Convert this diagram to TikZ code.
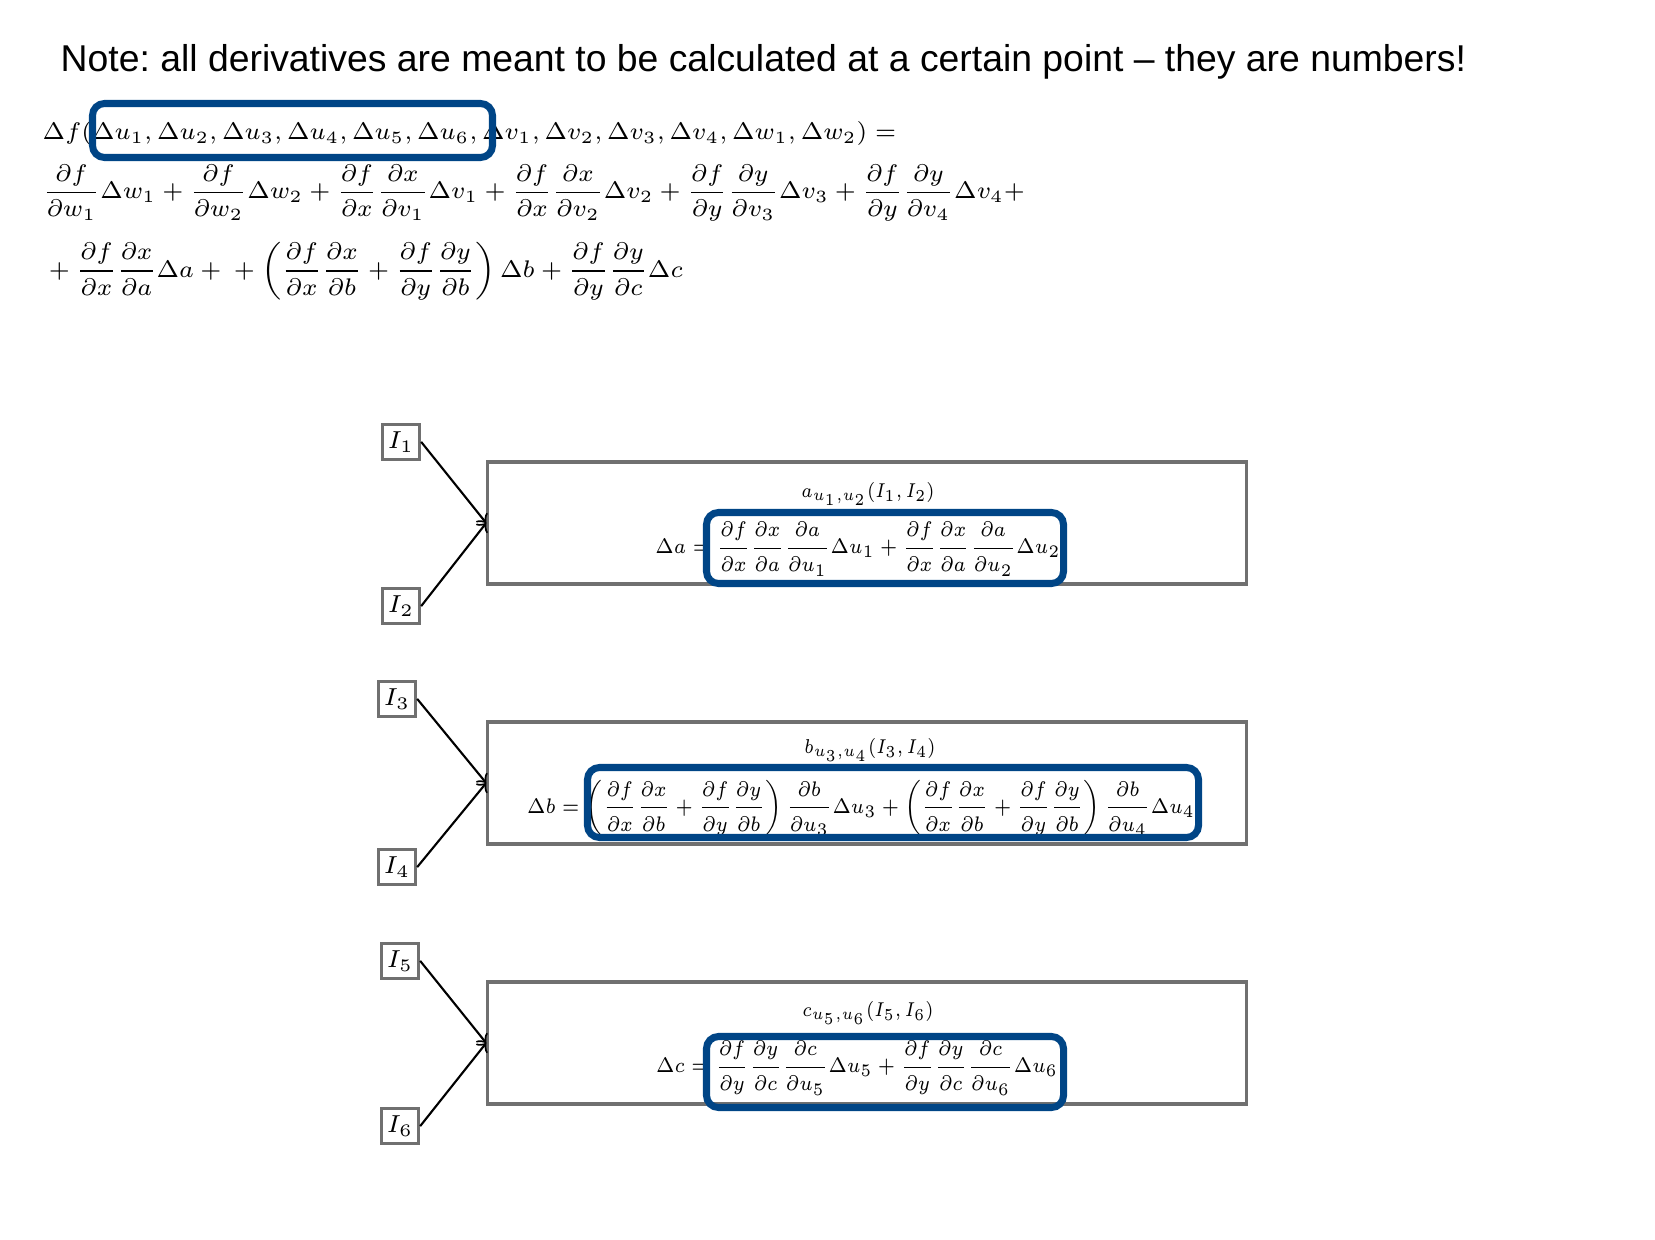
\documentclass[tikz,border=0pt]{standalone}
\usepackage{amsmath}
\usepackage{amssymb}
\usepackage{graphicx}
\usepackage{fontspec}
\usetikzlibrary{positioning}
\newfontfamily\notefont{Liberation Sans}
\definecolor{myblue}{RGB}{0,69,134}
\definecolor{mygray}{RGB}{112,112,112}
\newcommand\pd[2]{\frac{\partial #1}{\partial #2}}
\newcommand\sqeq[1]{\scalebox{0.875}[1]{$\displaystyle #1$}}
\newcommand\sqlab[1]{\scalebox{0.81}[0.95]{$#1$}}
\newcommand\topeq[1]{\scalebox{0.976}{$\displaystyle #1$}}

\begin{document}
\begin{tikzpicture}[
x=0.01cm, y=-0.01cm,
stagebox/.style={
  draw=mygray,
  line width=0.9pt,
  minimum width=7.58cm,
  minimum height=1.22cm},
inbox/.style={
  draw=mygray,
  line width=0.9pt,
  minimum width=0.37cm,
  minimum height=0.35cm,
  inner sep=0pt,
  font=\fontsize{6.6}{8}\selectfont},
eqtop/.style={inner sep=0pt, anchor=west, font=\fontsize{7}{9}\selectfont},
eqin/.style={inner sep=0pt, font=\fontsize{6.5}{8}\selectfont},
hlbox/.style={draw=myblue, line width=2pt, rounded corners=0.12cm},
arr/.style={->, line width=0.6pt}
]
\useasboundingbox (0,0) rectangle (1655,1240);

% note and expansion of Delta f
\node[anchor=base west, inner sep=0pt, font=\notefont\fontsize{10.62}{13}\selectfont] (note) at (60,72)
  {\frenchspacing Note: all derivatives are meant to be calculated at a certain point – they are numbers!};
\node[eqtop, anchor=base west] (line1) at (42,140)
  {\topeq{\Delta f(\Delta u_1,\Delta u_2,\Delta u_3,\Delta u_4,\Delta u_5,\Delta u_6,\Delta v_1,\Delta v_2,\Delta v_3,\Delta v_4,\Delta w_1,\Delta w_2) =}};
\node[eqtop] (line2) at (42,193)
  {\topeq{\pd{f}{w_1}\Delta w_1+\pd{f}{w_2}\Delta w_2+\pd{f}{x}\pd{x}{v_1}\Delta v_1+\pd{f}{x}\pd{x}{v_2}\Delta v_2+\pd{f}{y}\pd{y}{v_3}\Delta v_3+\pd{f}{y}\pd{y}{v_4}\Delta v_4+}};
\node[eqtop] (line3) at (42,271)
  {\topeq{{}+\pd{f}{x}\pd{x}{a}\Delta a+{}+\left(\pd{f}{x}\pd{x}{b}+\pd{f}{y}\pd{y}{b}\right)\Delta b+\pd{f}{y}\pd{y}{c}\Delta c}};

% stage a
\node[stagebox] (boxa) at (867,523) {};
\node[eqin] (laba) at (868,494) {\sqlab{a_{u_1,u_2}(I_1,I_2)}};
\node[eqin] (eqa) at (858,549)
  {\sqeq{\Delta a = \pd{f}{x}\pd{x}{a}\pd{a}{u_1}\Delta u_1+\pd{f}{x}\pd{x}{a}\pd{a}{u_2}\Delta u_2}};
\node[inbox, above left=0.62cm and 0.65cm of boxa.west] (I1) {$I_1$};
\node[inbox, below left=0.64cm and 0.65cm of boxa.west] (I2) {$I_2$};
\draw[arr] (I1.east) -- (boxa.west);
\draw[arr] (I2.east) -- (boxa.west);

% stage b
\node[stagebox] (boxb) at (867,783) {};
\node[eqin] (labb) at (870,750) {\sqlab{b_{u_3,u_4}(I_3,I_4)}};
\node[eqin] (eqb) at (861,808)
  {\sqeq{\Delta b = \left(\pd{f}{x}\pd{x}{b}+\pd{f}{y}\pd{y}{b}\right)\pd{b}{u_3}\Delta u_3+\left(\pd{f}{x}\pd{x}{b}+\pd{f}{y}\pd{y}{b}\right)\pd{b}{u_4}\Delta u_4}};
\node[inbox, above left=0.65cm and 0.69cm of boxb.west] (I3) {$I_3$};
\node[inbox, below left=0.65cm and 0.69cm of boxb.west] (I4) {$I_4$};
\draw[arr] (I3.east) -- (boxb.west);
\draw[arr] (I4.east) -- (boxb.west);

% stage c
\node[stagebox] (boxc) at (867,1043) {};
\node[eqin] (labc) at (868,1013) {\sqlab{c_{u_5,u_6}(I_5,I_6)}};
\node[eqin] (eqc) at (857,1068)
  {\sqeq{\Delta c = \pd{f}{y}\pd{y}{c}\pd{c}{u_5}\Delta u_5+\pd{f}{y}\pd{y}{c}\pd{c}{u_6}\Delta u_6}};
\node[inbox, above left=0.63cm and 0.66cm of boxc.west] (I5) {$I_5$};
\node[inbox, below left=0.64cm and 0.66cm of boxc.west] (I6) {$I_6$};
\draw[arr] (I5.east) -- (boxc.west);
\draw[arr] (I6.east) -- (boxc.west);

% highlights
\draw[hlbox] (92.5,103.5) rectangle (492.5,157.5);
\draw[hlbox] (706.5,512.5) rectangle (1063.5,583.5);
\draw[hlbox] (587.5,767.5) rectangle (1198.5,837.5);
\draw[hlbox] (706.5,1036.5) rectangle (1063.5,1107.5);
\end{tikzpicture}
\end{document}
